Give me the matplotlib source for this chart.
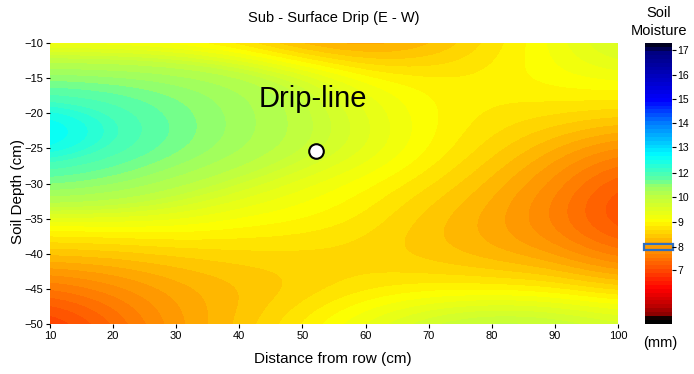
import numpy as np
import matplotlib
matplotlib.use("Agg")
import matplotlib.pyplot as plt
from matplotlib.colors import LinearSegmentedColormap, FuncNorm
from matplotlib.patches import Rectangle

plt.rcParams['font.family'] = ['Liberation Sans', 'DejaVu Sans']

# ---------------- data ----------------
distance = [10, 20, 30, 40, 50, 60, 70, 80, 90, 100]          # cm
depth = [-10, -15, -20, -25, -30, -35, -40, -45, -50]          # cm (top -> bottom)
moisture = [
    [8.9, 8.9, 8.8, 8.5, 8.0, 7.9, 8.2, 8.7, 9.2, 9.8],
    [11.1, 11.0, 10.8, 10.4, 9.8, 9.1, 8.9, 8.9, 9.1, 9.2],
    [12.7, 12.2, 11.4, 10.7, 10.0, 9.5, 9.0, 8.8, 8.7, 8.6],
    [12.8, 12.2, 11.4, 10.6, 10.0, 9.5, 9.0, 8.6, 8.2, 7.8],
    [11.3, 10.9, 10.2, 9.7, 9.3, 9.0, 8.7, 8.3, 7.8, 7.1],
    [9.2, 9.3, 9.3, 9.1, 9.0, 8.8, 8.4, 8.1, 7.6, 6.9],
    [8.4, 8.4, 8.5, 8.6, 8.6, 8.55, 8.4, 8.2, 8.0, 7.5],
    [7.5, 7.8, 8.1, 8.3, 8.5, 8.75, 8.85, 8.85, 8.8, 8.55],
    [6.7, 7.3, 8.0, 8.4, 8.9, 9.4, 9.9, 10.2, 10.1, 9.8],
]
cbar_tick_values = [7, 8, 9, 10, 12, 13, 14, 15, 16, 17]
cbar_tick_labels = ["7", "8", "9", "10", "12", "13", "14", "15", "16", "17"]
drip_x, drip_y = 52.2, -25.4
marked_value = 8

# ---------------- colour scale ----------------
cbar_tick_pos = [0.192, 0.274, 0.363, 0.452, 0.537, 0.630, 0.715, 0.801, 0.886, 0.975]
norm_vals = [4.74] + cbar_tick_values + [17.3]
norm_pos = [0.0] + cbar_tick_pos + [1.0]
fwd = lambda v: np.interp(v, norm_vals, norm_pos)
inv = lambda p: np.interp(p, norm_pos, norm_vals)
norm = FuncNorm((fwd, inv), vmin=norm_vals[0], vmax=norm_vals[-1])

anchors = [
    (0.0, "#000000"), (0.013, "#000000"), (0.02, "#800000"), (0.06, "#c00000"),
    (0.12, "#ff0000"), (0.192, "#ff5000"), (0.274, "#ffa000"), (0.318, "#ffd000"),
    (0.363, "#ffff00"), (0.452, "#c0ff40"), (0.495, "#90ff70"), (0.516, "#60ffa0"),
    (0.60, "#00ffff"), (0.715, "#0080ff"), (0.801, "#0000ff"), (0.886, "#0000c0"),
    (0.975, "#000080"), (0.99, "#000040"), (1.0, "#000020"),
]
cmap = LinearSegmentedColormap.from_list("soil", anchors).resampled(72)

# ---------------- figure ----------------
W, H = 694, 374
fig = plt.figure(figsize=(W / 100, H / 100), dpi=100)

def box(l, t, r, b):
    return [l / W, 1 - b / H, (r - l) / W, (b - t) / H]

ax = fig.add_axes(box(50, 43, 618, 324))
Z = np.array(moisture)
dx = (distance[1] - distance[0]) / 2
dy = (depth[0] - depth[1]) / 2
ax.imshow(Z, cmap=cmap, norm=norm, origin="upper", interpolation="bicubic",
          extent=[distance[0] - dx, distance[-1] + dx, depth[-1] - dy, depth[0] + dy],
          aspect="auto")
ax.set_xlim(distance[0], distance[-1])
ax.set_ylim(depth[-1], depth[0])
ax.set_xticks(np.arange(10, 101, 10))
ax.set_yticks(np.arange(-50, -9, 5))
for s in ax.spines.values():
    s.set_visible(False)
ax.tick_params(direction="out", length=3, width=0.8, labelsize=8, pad=2)

ax.plot([drip_x], [drip_y], "o", ms=10.5, mfc="white", mec="black", mew=1.5)
ax.text(51.6, -19.1, "Drip-line", fontsize=21, ha="center", va="baseline")

fig.text(334 / W, 1 - 18 / H, "Sub - Surface Drip (E - W)", fontsize=10.5,
         ha="center", va="center")
fig.text(333 / W, 1 - 359 / H, "Distance from row (cm)", fontsize=11,
         ha="center", va="center")
fig.text(18 / W, 1 - 191 / H, "Soil Depth (cm)", fontsize=11, rotation=90,
         ha="center", va="center")

# ---------------- colour bar ----------------
cax = fig.add_axes(box(645, 43, 672, 324))
grad = np.linspace(0, 1, 512).reshape(-1, 1)
cax.imshow(grad, cmap=cmap, origin="lower", extent=[0, 1, 0, 1], aspect="auto",
           interpolation="nearest")
cax.set_xlim(0, 1)
cax.set_ylim(0, 1)
cax.set_xticks([])
cax.yaxis.tick_right()
cax.set_yticks(cbar_tick_pos)
cax.set_yticklabels(cbar_tick_labels)
cax.tick_params(direction="out", length=3, width=0.8, labelsize=7.5, pad=1)
for s in cax.spines.values():
    s.set_visible(False)
mp = fwd(marked_value)
cax.add_patch(Rectangle((-0.04, mp - 0.011), 1.08, 0.022, fill=False,
                        edgecolor="#2f6fc0", lw=1.6, clip_on=False))

fig.text(659 / W, 1 - 13 / H, "Soil", fontsize=10.5, ha="center", va="center")
fig.text(659 / W, 1 - 31 / H, "Moisture", fontsize=10.5, ha="center", va="center")
fig.text(660 / W, 1 - 343 / H, "(mm)", fontsize=10.5, ha="center", va="center")

fig.savefig("out.png", dpi=100)
